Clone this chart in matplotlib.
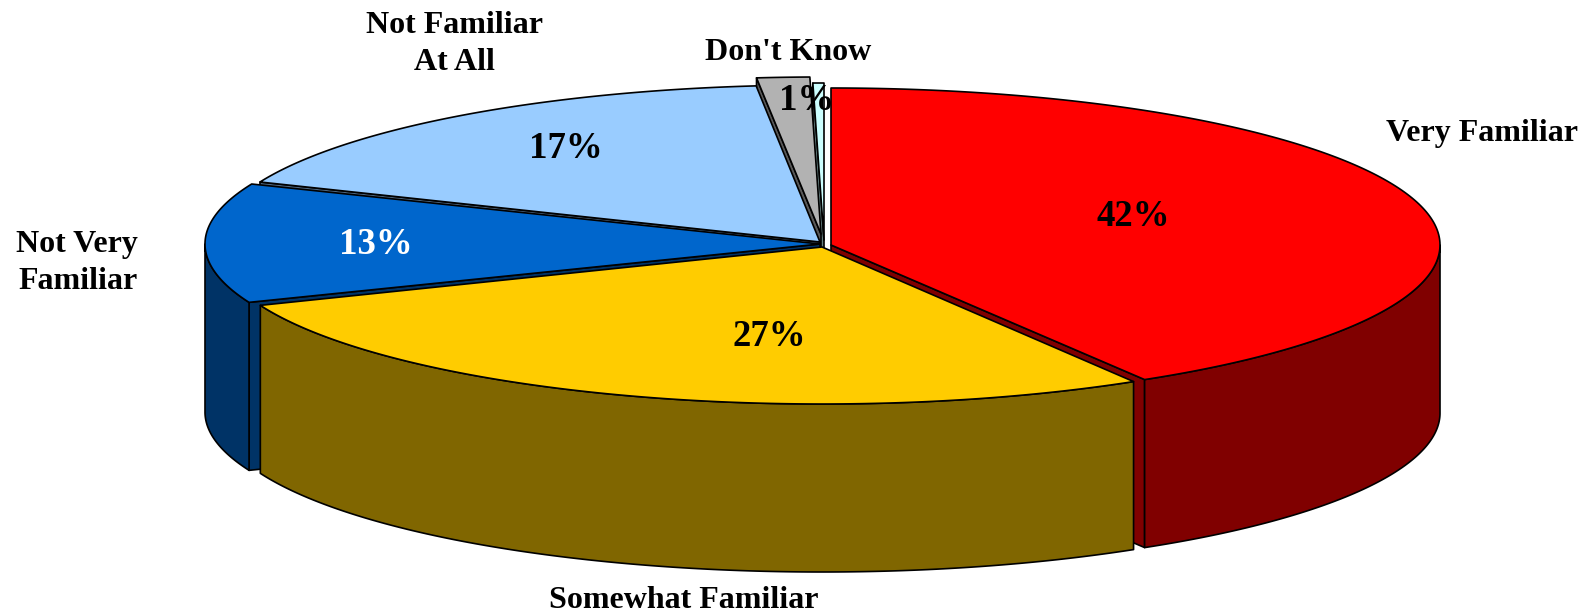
import numpy as np
import matplotlib
matplotlib.use("Agg")
import matplotlib.pyplot as plt

# Slice data, clockwise from 12 o'clock
categories = ["Very Familiar", "Somewhat Familiar", "Not Very\nFamiliar",
              "Not Familiar\nAt All", "Don't Know", ""]
shares = [41.39, 27.55, 12.3, 17.08, 1.39, 0.29]
pct_labels = ["42%", "27%", "13%", "17%", "1%", ""]

top_colors = ["#FF0000", "#FFCC00", "#0066CC", "#99CCFF", "#B2B2B2", "#CCFFFF"]
side_colors = ["#800000", "#806600", "#003366", "#4D6680", "#595959", "#668080"]
pct_colors = ["black", "black", "white", "black", "black", "black"]

# Pie geometry in pixels
centers = [(831, 245), (822, 247), (820, 244), (820, 242), (821, 234), (824, 240)]
rx_values = [609, 605, 615, 606, 612, 612]
ry = 157
depth = 168
draw_order = [5, 4, 3, 2, 0, 1]

# Text placement in pixels
cat_pos = [(1482, 134), (684, 600), (138, 263), (454, 44), (788, 52), (0, 0)]
cat_align = ["center", "center", "right", "center", "center", "center"]
pct_pos = [(1133, 216), (769, 336), (376, 244), (566, 148), (807, 100), (0, 0)]

serif = "Liberation Serif"

fig = plt.figure(figsize=(15.92, 6.12), dpi=100)
ax = fig.add_axes([0, 0, 1, 1])
ax.set_xlim(0, 1592)
ax.set_ylim(612, 0)
ax.axis("off")

# start and end angle of each slice
spans = np.array(shares) / sum(shares) * 360
ends = 90 - np.cumsum(spans)
starts = ends + spans


def rim(center, rx, a1, a2):
    t = np.radians(np.linspace(a1, a2, 200))
    return center[0] + rx * np.cos(t), center[1] - ry * np.sin(t)


def poly(xs, ys, color, z):
    ax.fill(xs, ys, facecolor=color, edgecolor="black", linewidth=1.2,
            joinstyle="round", zorder=z)


z = 1
for i in draw_order:
    c, rx = centers[i], rx_values[i]
    a1, a2 = starts[i], ends[i]

    # cut faces, only the ones turned towards the viewer
    for a, visible in [(a1, np.cos(np.radians(a1)) < 0), (a2, np.cos(np.radians(a2)) > 0)]:
        if visible:
            ex, ey = rim(c, rx, a, a)
            ex, ey = ex[0], ey[0]
            poly([c[0], ex, ex, c[0]], [c[1], ey, ey + depth, c[1] + depth],
                 side_colors[i], z)
            z += 1

    # outer wall, front half of the rim only
    lo = max(a2, -180)
    hi = min(a1, 0)
    if hi > lo:
        xs, ys = rim(c, rx, lo, hi)
        poly(np.r_[xs, xs[::-1]], np.r_[ys, ys[::-1] + depth], side_colors[i], z)
        z += 1

    # top face
    xs, ys = rim(c, rx, a1, a2)
    poly(np.r_[c[0], xs], np.r_[c[1], ys], top_colors[i], z)
    z += 1

for i in range(len(categories)):
    if categories[i]:
        ax.text(cat_pos[i][0], cat_pos[i][1], categories[i], family=serif,
                fontweight="bold", fontsize=23, ha=cat_align[i], va="center",
                multialignment=cat_align[i], linespacing=1.38, zorder=100)
    if pct_labels[i]:
        ax.text(pct_pos[i][0], pct_pos[i][1], pct_labels[i], family=serif,
                fontweight="bold", fontsize=26.6, color=pct_colors[i],
                ha="center", va="center", zorder=100)

fig.savefig("out.png", dpi=100)
